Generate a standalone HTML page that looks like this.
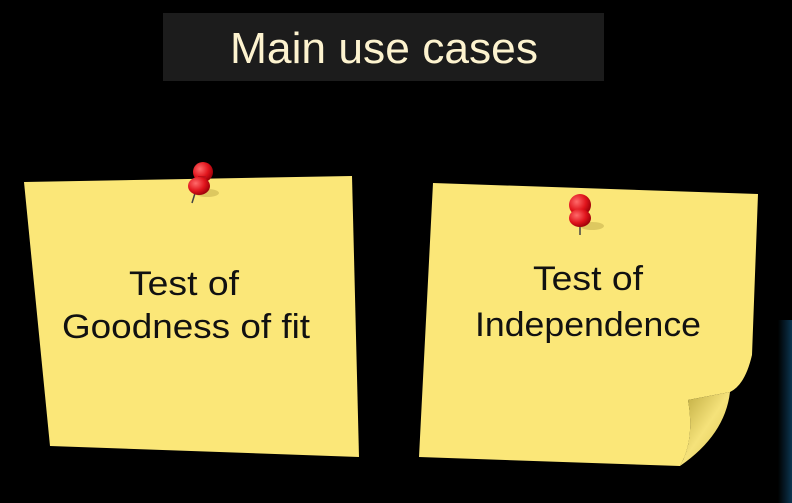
<!DOCTYPE html>
<html><head><meta charset="utf-8"><style>
html,body{margin:0;padding:0;background:#000;width:792px;height:503px;overflow:hidden}
</style></head><body>
<svg width="792" height="503" viewBox="0 0 792 503" xmlns="http://www.w3.org/2000/svg">
<defs>
<radialGradient id="pin" cx="0.35" cy="0.35" r="0.7"><stop offset="0" stop-color="#ff6a6a"/><stop offset="0.6" stop-color="#e0141c"/><stop offset="1" stop-color="#9a0008"/></radialGradient>
<linearGradient id="curl" x1="0" y1="0" x2="1" y2="1"><stop offset="0" stop-color="#b8a43a"/><stop offset="0.5" stop-color="#f5e27a"/><stop offset="1" stop-color="#d8c250"/></linearGradient>
<linearGradient id="blue" x1="0" y1="0" x2="1" y2="0"><stop offset="0" stop-color="#000"/><stop offset="1" stop-color="#0b3550"/></linearGradient>
</defs>
<rect x="778" y="320" width="14" height="183" fill="url(#blue)"/>
<rect x="163" y="13" width="441" height="68" fill="#1c1c1c"/>
<text x="384" y="63" text-anchor="middle" font-family="Liberation Sans, sans-serif" font-size="44" fill="#fdf3cf" textLength="308" lengthAdjust="spacingAndGlyphs">Main use cases</text>
<polygon points="24,182 352,176 359,457 50,446" fill="#fbe778"/>
<path d="M433,183 L758,194 L752,355 Q745,385 730,392 L688,400 Q695,440 680,466 L419,457 Z" fill="#fbe778"/>
<path d="M730,392 L688,400 Q695,440 680,466 Q725,435 730,392 Z" fill="url(#curl)"/>
<g font-family="Liberation Sans, sans-serif" font-size="34" fill="#111" text-anchor="middle">
<text x="184" y="295" textLength="110" lengthAdjust="spacingAndGlyphs">Test of</text>
<text x="186" y="338" textLength="248" lengthAdjust="spacingAndGlyphs">Goodness of fit</text>
<text x="588" y="290" textLength="110" lengthAdjust="spacingAndGlyphs">Test of</text>
<text x="588" y="336" textLength="226" lengthAdjust="spacingAndGlyphs">Independence</text>
</g>
<line x1="196" y1="190" x2="192" y2="203" stroke="#444" stroke-width="1.5"/>
<ellipse cx="207" cy="193" rx="12" ry="4" fill="#c9b450" opacity="0.6"/>
<circle cx="203" cy="172" r="10" fill="url(#pin)"/>
<rect x="198" y="176" width="8" height="8" fill="#c0101a"/>
<ellipse cx="199" cy="186" rx="11" ry="9" fill="url(#pin)"/>
<line x1="580" y1="222" x2="580" y2="235" stroke="#444" stroke-width="1.5"/>
<ellipse cx="592" cy="226" rx="12" ry="4" fill="#c9b450" opacity="0.6"/>
<circle cx="580" cy="205" r="11" fill="url(#pin)"/>
<rect x="576" y="210" width="8" height="8" fill="#c0101a"/>
<ellipse cx="580" cy="218" rx="11" ry="9" fill="url(#pin)"/>
</svg>
</body></html>
